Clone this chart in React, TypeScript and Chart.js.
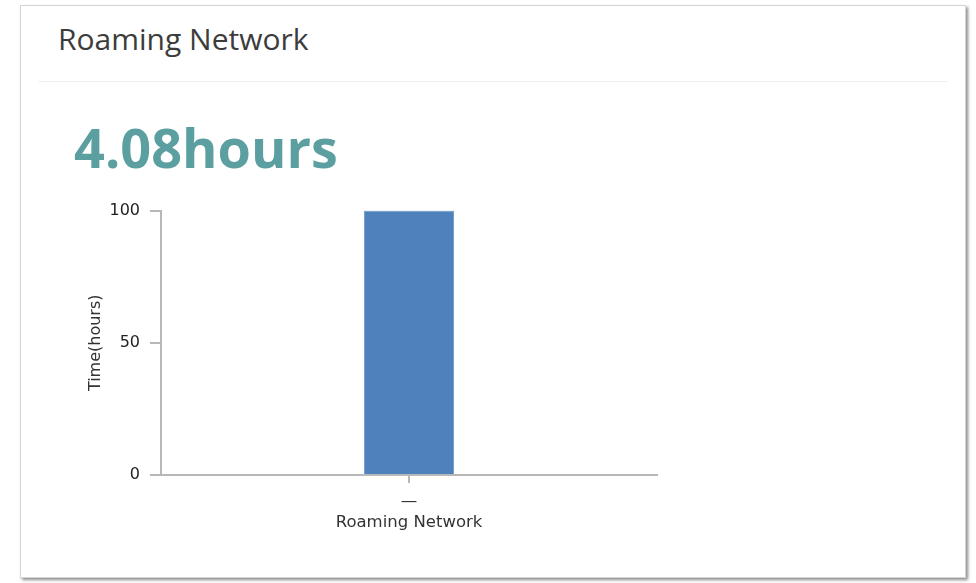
import React, { useEffect, useRef } from "react";
import { Chart, registerables } from "chart.js";

Chart.register(...registerables);

const categories: string[][] = [["—", "Roaming Network"]];
const seriesValues: number[] = [100];
const yTickValues: number[] = [0, 50, 100];
const cardTitle = "Roaming Network";
const bigValue = "4.08hours";
const yAxisTitle = "Time(hours)";

const AXIS = "#b8b8b8";
const FONT = "'DejaVu Sans', sans-serif";

export default function App() {
  const ref = useRef<HTMLCanvasElement | null>(null);

  useEffect(() => {
    if (!ref.current) return;
    const chart = new Chart(ref.current, {
      type: "bar",
      data: {
        labels: categories,
        datasets: [
          {
            data: seriesValues,
            backgroundColor: "#4f81bd",
            borderColor: "#6f97c9",
            borderWidth: 1,
            barPercentage: 0.182,
            categoryPercentage: 1,
          },
        ],
      },
      options: {
        animation: false,
        responsive: false,
        layout: { padding: { top: 2, right: 13, left: 0, bottom: 0 } },
        plugins: { legend: { display: false }, tooltip: { enabled: false } },
        scales: {
          x: {
            grid: {
              offset: false,
              drawOnChartArea: false,
              drawTicks: true,
              tickLength: 8,
              color: AXIS,
              lineWidth: 2,
            },
            border: { color: AXIS, width: 2 },
            ticks: {
              color: "#333",
              padding: 8,
              font: { family: FONT, size: 16.5, lineHeight: 1.27 },
            },
            afterFit: (s: any) => {
              s.height = 70;
            },
          },
          y: {
            min: 0,
            max: 100,
            afterBuildTicks: (s: any) => {
              s.ticks = yTickValues.map((v) => ({ value: v }));
            },
            grid: {
              drawOnChartArea: false,
              drawTicks: true,
              tickLength: 11,
              color: AXIS,
              lineWidth: 2,
            },
            border: { color: AXIS, width: 2 },
            ticks: {
              color: "#222",
              padding: 10,
              font: { family: FONT, size: 16 },
            },
            title: {
              display: true,
              text: yAxisTitle,
              color: "#333",
              padding: { top: 16, bottom: 0 },
              font: { family: FONT, size: 16 },
            },
            afterFit: (s: any) => {
              s.width = 91;
            },
          },
        },
      },
    });
    return () => chart.destroy();
  }, []);

  return (
    <div style={{ position: "absolute", left: 0, top: 0, width: 976, height: 583, background: "#fff", overflow: "hidden" }}>
      <div
        style={{
          position: "absolute",
          left: 20,
          top: 5,
          width: 944,
          height: 571,
          border: "1px solid #d6d6d6",
          boxShadow: "2px 2px 3px rgba(0,0,0,0.45)",
          background: "#fff",
        }}
      />
      <div
        style={{
          position: "absolute",
          left: 58,
          top: 19,
          fontFamily: "'Open Sans', sans-serif",
          fontSize: 30,
          color: "#3c3c3c",
          lineHeight: "40px",
          whiteSpace: "nowrap",
        }}
      >
        {cardTitle}
      </div>
      <div style={{ position: "absolute", left: 38, top: 81, width: 910, height: 1, background: "#f0f0f0" }} />
      <div
        style={{
          position: "absolute",
          left: 74,
          top: 112,
          fontFamily: "'Open Sans', sans-serif",
          fontWeight: 700,
          fontSize: 54,
          color: "#5b9fa0",
          lineHeight: "70px",
          whiteSpace: "nowrap",
        }}
      >
        {bigValue}
      </div>
      <div style={{ position: "absolute", left: 70, top: 191, width: 600, height: 354 }}>
        <canvas ref={ref} width={600} height={354} />
      </div>
    </div>
  );
}
